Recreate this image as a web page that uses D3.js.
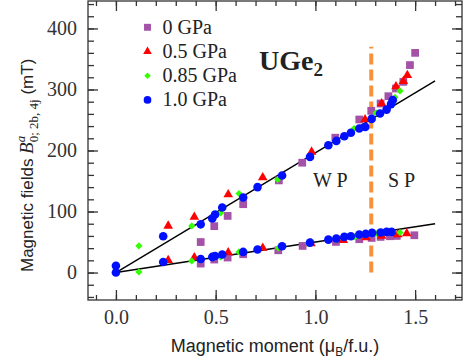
<!DOCTYPE html>
<html>
<head>
<meta charset="utf-8">
<script src="https://cdn.jsdelivr.net/npm/d3@7"></script>
<style>
  body { margin: 0; background: #fff; }
  svg { display: block; }
</style>
</head>
<body>
<div id="chart"></div>
<script>
// data: [moment, field]
const gpa0 = [
  [0.425, 50], [0.425, 14.7], [0.493, 76], [0.493, 21.3], [0.56, 92.8], [0.56, 24.6],
  [0.638, 112], [0.638, 30], [0.817, 151], [0.814, 36.5], [0.934, 180], [0.936, 43.6],
  [1.1, 221], [1.103, 50.2], [1.22, 250.8], [1.22, 54.6], [1.28, 265], [1.282, 56.7],
  [1.327, 277], [1.327, 58.4], [1.366, 289], [1.374, 59.5], [1.404, 301.6], [1.408, 60],
  [1.441, 312.5], [1.474, 340], [1.5, 360], [1.496, 61.1]
];
const gpa05 = [
  [0.262, 76.4], [0.262, 20], [0.393, 91], [0.393, 24.5], [0.563, 128], [0.563, 32.8],
  [0.736, 155.7], [0.736, 40.3], [0.981, 197.7], [0.978, 47.5], [1.14, 53], [1.254, 57.4],
  [1.332, 60], [1.413, 62.3], [1.458, 64], [1.249, 250.8], [1.332, 277], [1.404, 305],
  [1.441, 313.6], [1.461, 323.4]
];
const gpa085 = [
  [0.115, 43.6], [0.115, 1], [0.38, 76.4], [0.38, 19], [0.525, 97.7], [0.525, 25.6],
  [0.617, 129.5], [0.617, 33.8], [0.811, 152.5], [0.814, 40.3], [0.965, 47.5],
  [1.103, 214], [1.103, 54], [1.194, 236], [1.199, 58.4], [1.304, 261.6], [1.304, 64],
  [1.399, 287], [1.424, 297.7], [1.424, 65.6]
];
const gpa10 = [
  [0, 11], [0, 0], [0.237, 59.5], [0.237, 17.4], [0.425, 79], [0.425, 22.3],
  [0.483, 88.5], [0.497, 95], [0.483, 25.6], [0.497, 27.2], [0.533, 106.5], [0.533, 29.5],
  [0.638, 123], [0.638, 33.8], [0.71, 140], [0.71, 37.7], [0.833, 159], [0.833, 43],
  [0.973, 189.5], [0.973, 49], [1.065, 208.7], [1.065, 54], [1.105, 215.7], [1.105, 55.7],
  [1.145, 223.4], [1.145, 58.4], [1.178, 229], [1.178, 59.5], [1.22, 236], [1.22, 62.3],
  [1.25, 238.7], [1.252, 63.3], [1.282, 251.8], [1.284, 65], [1.324, 260.6], [1.327, 65.6],
  [1.357, 267], [1.357, 66.6], [1.379, 276], [1.382, 66.6], [1.388, 282.5]
];
const fitUpper = [[0, 0], [1.6, 314]];
const fitLower = [[0, 0], [1.6, 80]];
const boundaryX = 1.28;
const boundaryTop = 370;

const seriesNames = ['0 GPa', '0.5 GPa', '0.85 GPa', '1.0 GPa'];
const xTicks = [0, 0.5, 1.0, 1.5];
const yTicks = [0, 100, 200, 300, 400];

const W = 464, H = 364;
const plot = { left: 88, right: 462, top: 1, bottom: 300 };

const x = d3.scaleLinear().domain([-0.14, 1.735]).range([plot.left, plot.right]);
const y = d3.scaleLinear().domain([-45, 445]).range([plot.bottom, plot.top]);

const svg = d3.select('#chart').append('svg')
  .attr('width', W)
  .attr('height', H);

const serif = 'Liberation Serif, Times New Roman, serif';
const sans = 'Liberation Sans, Arial, sans-serif';
const axisColor = '#333';

// axes (ticks point inward)
function styleAxis(g) {
  g.select('.domain').remove();
  g.selectAll('line').attr('stroke', axisColor).attr('stroke-width', 1.3);
  g.selectAll('text').attr('font-family', serif).attr('font-size', 20).attr('fill', '#333');
}

const xMinor = d3.range(-0.1, 1.71, 0.1);
const yMinor = d3.range(-40, 441, 20);

svg.append('g').attr('transform', `translate(0,${plot.bottom})`)
  .call(d3.axisBottom(x).tickValues(xMinor).tickSize(-5).tickFormat(''))
  .call(styleAxis);
svg.append('g').attr('transform', `translate(0,${plot.bottom})`)
  .call(d3.axisBottom(x).tickValues(xTicks).tickSize(-10).tickPadding(10).tickFormat(d3.format('.1f')))
  .call(styleAxis);
svg.append('g').attr('transform', `translate(0,${plot.top})`)
  .call(d3.axisTop(x).tickValues(xMinor).tickSize(-5).tickFormat(''))
  .call(styleAxis);
svg.append('g').attr('transform', `translate(0,${plot.top})`)
  .call(d3.axisTop(x).tickValues(xTicks).tickSize(-10).tickFormat(''))
  .call(styleAxis);

svg.append('g').attr('transform', `translate(${plot.left},0)`)
  .call(d3.axisLeft(y).tickValues(yMinor).tickSize(-6).tickFormat(''))
  .call(styleAxis);
svg.append('g').attr('transform', `translate(${plot.left},0)`)
  .call(d3.axisLeft(y).tickValues(yTicks).tickSize(-10).tickPadding(11))
  .call(styleAxis);
svg.append('g').attr('transform', `translate(${plot.right},0)`)
  .call(d3.axisRight(y).tickValues(yMinor).tickSize(-6).tickFormat(''))
  .call(styleAxis);
svg.append('g').attr('transform', `translate(${plot.right},0)`)
  .call(d3.axisRight(y).tickValues(yTicks).tickSize(-10).tickFormat(''))
  .call(styleAxis);

// frame
svg.append('rect')
  .attr('x', plot.left).attr('y', plot.top)
  .attr('width', plot.right - plot.left).attr('height', plot.bottom - plot.top)
  .attr('fill', 'none').attr('stroke', axisColor).attr('stroke-width', 1.3);

// fit lines
const line = d3.line().x(d => x(d[0])).y(d => y(d[1]));
[fitUpper, fitLower].forEach(f => {
  svg.append('path').attr('d', line(f))
    .attr('fill', 'none').attr('stroke', '#000').attr('stroke-width', 1.4);
});

// WP / SP boundary
svg.append('line')
  .attr('x1', x(boundaryX)).attr('x2', x(boundaryX))
  .attr('y1', y(0)).attr('y2', y(boundaryTop))
  .attr('stroke', '#f7923a').attr('stroke-width', 4)
  .attr('stroke-dasharray', '11,5');

// markers
const styles = [
  { data: gpa0, color: '#a452a8', sym: d3.symbolSquare, size: 60, rot: 0 },
  { data: gpa05, color: '#ff0000', sym: d3.symbolTriangle, size: 40, rot: 0 },
  { data: gpa085, color: '#33ff00', sym: d3.symbolSquare, size: 26, rot: 45 },
  { data: gpa10, color: '#0010ff', sym: d3.symbolCircle, size: 58, rot: 0 }
];

styles.forEach(s => {
  const path = d3.symbol().type(s.sym).size(s.size)();
  svg.append('g').selectAll('path')
    .data(s.data)
    .enter()
    .append('path')
    .attr('d', path)
    .attr('transform', d => `translate(${x(d[0])},${y(d[1])}) rotate(${s.rot})`)
    .attr('fill', s.color);
});

// legend
const legend = svg.append('g');
styles.forEach((s, i) => {
  const ly = 27.3 + i * 24.2;
  legend.append('path')
    .attr('d', d3.symbol().type(s.sym).size(s.size * 0.8)())
    .attr('transform', `translate(147.5,${ly}) rotate(${s.rot})`)
    .attr('fill', s.color);
  legend.append('text')
    .attr('x', 162.5).attr('y', ly + 6.5)
    .attr('font-family', serif).attr('font-size', 20).attr('fill', '#222')
    .text(seriesNames[i]);
});

// annotations
const ugeText = svg.append('text')
  .attr('x', 259).attr('y', 70)
  .attr('font-family', serif).attr('font-weight', 'bold').attr('font-size', 28).attr('fill', '#222');
ugeText.append('tspan').text('UGe');
ugeText.append('tspan').attr('font-size', 19).attr('dy', 6).text('2');

svg.append('text')
  .attr('x', 313).attr('y', 187)
  .attr('font-family', serif).attr('font-size', 20).attr('fill', '#222')
  .text('W P');
svg.append('text')
  .attr('x', 388).attr('y', 187)
  .attr('font-family', serif).attr('font-size', 20).attr('fill', '#222')
  .text('S P');

// axis titles
const xt = svg.append('text')
  .attr('x', 275).attr('y', 352)
  .attr('text-anchor', 'middle')
  .attr('font-family', sans).attr('font-size', 18).attr('fill', '#222');
xt.append('tspan').text('Magnetic moment (μ');
xt.append('tspan').attr('font-size', 12).attr('dy', 4).text('B');
xt.append('tspan').attr('dy', -4).text('/f.u.)');

const yt = svg.append('text')
  .attr('transform', 'translate(33,272) rotate(-90)')
  .attr('font-family', sans).attr('font-size', 17).attr('fill', '#222');
yt.append('tspan').text('Magnetic fields ');
yt.append('tspan').attr('font-family', serif).attr('font-style', 'italic').attr('font-size', 19).text('B');
yt.append('tspan').attr('font-family', serif).attr('font-style', 'italic').attr('font-size', 13)
  .attr('dy', -8).text('a');
yt.append('tspan').attr('font-family', serif).attr('font-size', 13)
  .attr('dx', -6.5).attr('dy', 13).text('0; 2b, 4j');
yt.append('tspan').attr('dy', -5).text(' (mT)');
</script>
</body>
</html>
